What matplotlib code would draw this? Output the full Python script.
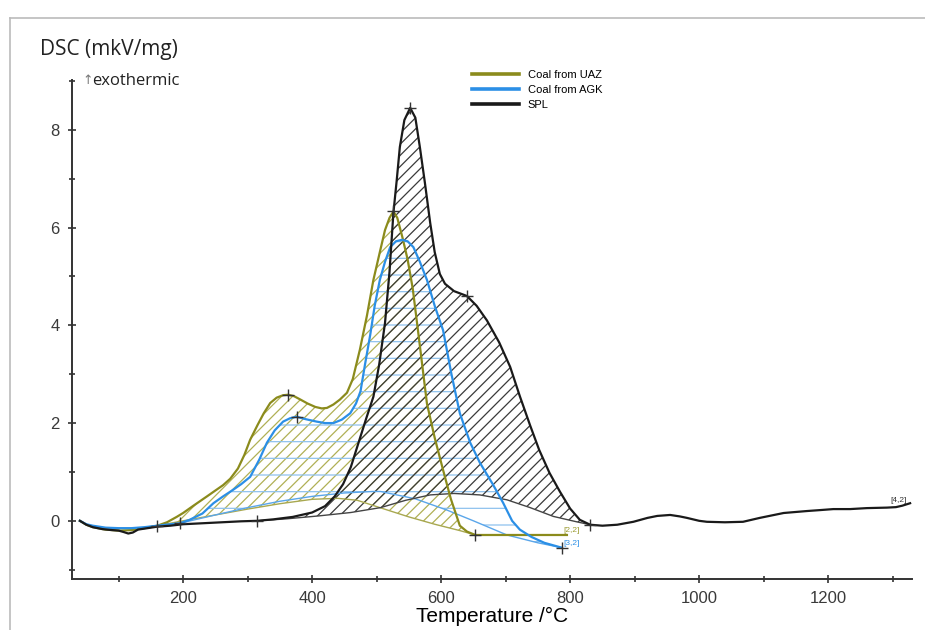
import numpy as np
import matplotlib.pyplot as plt
from matplotlib.lines import Line2D

# DSC curves (temperature in degC, signal in mkV/mg)
t_uaz = [40, 50, 60, 80, 100, 120, 140, 160, 175, 190, 200, 215, 237, 250, 262, 273,
         285, 295, 304, 315, 325, 335, 345, 355, 363, 372, 382, 393, 405, 415, 423,
         433, 443, 454, 463, 474, 485, 495, 505, 513, 520, 526, 532, 540, 548, 556,
         565, 578, 590, 603, 615, 629, 640, 653, 700, 750, 795]
v_uaz = [0.0, -0.08, -0.13, -0.18, -0.2, -0.19, -0.15, -0.1, -0.03, 0.08, 0.16, 0.3,
         0.5, 0.62, 0.73, 0.86, 1.07, 1.35, 1.66, 1.95, 2.2, 2.41, 2.52, 2.57, 2.58,
         2.55, 2.48, 2.4, 2.33, 2.3, 2.31, 2.38, 2.48, 2.62, 2.9, 3.5, 4.2, 4.93,
         5.5, 5.95, 6.2, 6.33, 6.2, 5.8, 5.35, 4.75, 3.8, 2.4, 1.7, 1.04, 0.45,
         -0.1, -0.22, -0.29, -0.29, -0.29, -0.29]

t_agk = [40, 50, 60, 80, 100, 120, 140, 160, 180, 195, 210, 230, 247, 262, 277, 290,
         304, 318, 330, 342, 355, 366, 376, 390, 407, 420, 433, 446, 459, 468, 475,
         482, 490, 497, 505, 513, 521, 530, 539, 548, 557, 567, 578, 590, 603, 616,
         629, 645, 660, 680, 696, 710, 722, 740, 760, 787]
v_agk = [0.0, -0.07, -0.1, -0.14, -0.15, -0.15, -0.13, -0.1, -0.07, -0.05, 0.02,
         0.15, 0.36, 0.5, 0.63, 0.75, 0.9, 1.25, 1.6, 1.85, 2.03, 2.1, 2.13, 2.08,
         2.03, 2.0, 2.0, 2.07, 2.2, 2.4, 2.65, 3.2, 3.8, 4.4, 4.93, 5.3, 5.6, 5.72,
         5.75, 5.72, 5.6, 5.3, 4.93, 4.4, 3.9, 3.0, 2.2, 1.6, 1.19, 0.75, 0.37, 0.0,
         -0.18, -0.33, -0.45, -0.55]

t_spl = [40, 50, 60, 75, 90, 100, 108, 115, 122, 130, 145, 160, 180, 200, 230, 260,
         290, 315, 340, 370, 400, 420, 435, 448, 460, 472, 484, 495, 504, 513, 520,
         526, 531, 536, 543, 552, 560, 567, 575, 583, 590, 598, 606, 620, 640, 655,
         671, 690, 707, 722, 738, 752, 768, 784, 800, 815, 831, 850, 873, 898, 920,
         935, 955, 970, 981, 1000, 1012, 1040, 1068, 1094, 1131, 1167, 1188, 1208,
         1234, 1260, 1291, 1305, 1315, 1327]
v_spl = [0.0, -0.08, -0.13, -0.17, -0.19, -0.2, -0.23, -0.26, -0.24, -0.18, -0.15,
         -0.12, -0.1, -0.07, -0.05, -0.03, -0.01, 0.0, 0.03, 0.08, 0.17, 0.3, 0.5,
         0.75, 1.1, 1.6, 2.1, 2.54, 3.2, 4.05, 5.1, 6.3, 6.95, 7.65, 8.2, 8.45,
         8.25, 7.65, 6.9, 6.1, 5.5, 5.05, 4.85, 4.7, 4.6, 4.4, 4.1, 3.65, 3.15,
         2.55, 1.95, 1.45, 0.98, 0.6, 0.25, 0.02, -0.08, -0.1, -0.08, -0.02, 0.06,
         0.1, 0.12, 0.09, 0.06, 0.0, -0.02, -0.03, -0.02, 0.06, 0.16, 0.2, 0.22,
         0.24, 0.24, 0.26, 0.27, 0.28, 0.31, 0.36]

# integration baselines
tb_uaz = [160, 200, 250, 300, 350, 400, 440, 470, 505, 550, 590, 629, 653]
vb_uaz = [-0.1, 0.0, 0.12, 0.24, 0.35, 0.44, 0.46, 0.42, 0.27, 0.08, -0.07, -0.2, -0.29]
tb_agk = [195, 250, 300, 350, 400, 450, 494, 506, 560, 609, 650, 702, 750, 787]
vb_agk = [-0.05, 0.12, 0.27, 0.4, 0.5, 0.57, 0.6, 0.6, 0.45, 0.22, 0.0, -0.29, -0.45, -0.55]
tb_spl = [315, 360, 410, 460, 506, 545, 583, 620, 660, 702, 738, 774, 810, 831]
vb_spl = [0.0, 0.04, 0.1, 0.17, 0.27, 0.42, 0.53, 0.56, 0.53, 0.43, 0.27, 0.09, -0.02, -0.08]

# marked points (+)
mark_t = [363, 526, 376, 552, 640, 160, 195, 315, 653, 787, 831]
mark_v = [2.58, 6.33, 2.13, 8.45, 4.6, -0.1, -0.05, 0.0, -0.29, -0.55, -0.08]

c_uaz = '#8b8b1c'
c_agk = '#2b8fe6'
c_spl = '#1a1a1a'

plt.rcParams['font.family'] = ['Liberation Sans', 'DejaVu Sans']
plt.rcParams['hatch.linewidth'] = 0.9

fig = plt.figure(figsize=(9.25, 6.3), dpi=100)
ax = fig.add_axes([0.078, 0.081, 0.908, 0.792])


def area(t, v, tb, vb, color, hatch):
    t = np.array(t)
    v = np.array(v)
    sel = (t >= tb[0]) & (t <= tb[-1])
    xs = np.concatenate([t[sel], tb[::-1]])
    ys = np.concatenate([v[sel], vb[::-1]])
    ax.fill(xs, ys, facecolor='none', edgecolor=color, hatch=hatch, linewidth=0, zorder=1)


area(t_uaz, v_uaz, tb_uaz, vb_uaz, '#b0b055', '///')
area(t_agk, v_agk, tb_agk, vb_agk, '#8fc2ee', '-')
area(t_spl, v_spl, tb_spl, vb_spl, '#3a3a3a', '///')

ax.plot(tb_uaz, vb_uaz, color='#a8a850', lw=1, zorder=2)
ax.plot(tb_agk, vb_agk, color='#5aa6ea', lw=1, zorder=2)
ax.plot(tb_spl, vb_spl, color='#444444', lw=1, zorder=2)

ax.plot(t_uaz, v_uaz, color=c_uaz, lw=1.6, label='Coal from UAZ', zorder=3)
ax.plot(t_agk, v_agk, color=c_agk, lw=1.6, label='Coal from AGK', zorder=4)
ax.plot(t_spl, v_spl, color=c_spl, lw=1.6, label='SPL', zorder=5)
ax.plot(mark_t, mark_v, ls='none', marker='+', ms=8, mew=1, color='#333333', zorder=6)

ax.text(790, -0.22, '[2,2]', fontsize=6, color='#9a9a30')
ax.text(790, -0.5, '[3,2]', fontsize=6, color=c_agk)
ax.text(1297, 0.38, '[4,2]', fontsize=6, color='#333333')

ax.set_xlim(28, 1330)
ax.set_ylim(-1.19, 9.02)
ax.set_xticks([200, 400, 600, 800, 1000, 1200])
ax.set_xticks(np.arange(100, 1400, 100), minor=True)
ax.set_yticks([0, 2, 4, 6, 8])
ax.set_yticks(np.arange(-1, 10, 1), minor=True)
for s in ['top', 'right']:
    ax.spines[s].set_visible(False)
for s in ['left', 'bottom']:
    ax.spines[s].set_color('#333333')
    ax.spines[s].set_linewidth(1.4)
ax.tick_params(which='both', direction='inout', color='#333333', width=1.2)
ax.tick_params(which='major', length=6, labelsize=12, labelcolor='#3a3a3a', pad=6)
ax.tick_params(which='minor', length=4)

ax.set_xlabel('Temperature /°C', fontsize=15, family=['Liberation Sans', 'DejaVu Sans'],
              labelpad=0)
fig.text(40 / 925, 1 - 50 / 630, 'DSC (mkV/mg)', fontsize=15, va='center',
         family=['Open Sans', 'DejaVu Sans'], color='#222222')
fig.text(82 / 925, 1 - 81 / 630, '\u2191', fontsize=9, va='center', color='#777777',
         family=['DejaVu Sans'])
fig.text(92 / 925, 1 - 81 / 630, 'exothermic', fontsize=12, va='center',
         family=['Open Sans', 'DejaVu Sans'], color='#222222')

ax.legend(loc='upper left', bbox_to_anchor=(462 / 925, 1 - 60 / 630),
          bbox_transform=fig.transFigure, frameon=False, fontsize=8,
          handlelength=4.2, handletextpad=0.8, labelspacing=0.45)
for ln in ax.get_legend().get_lines():
    ln.set_linewidth(2.6)

# light gray frame of the screenshot
fig.add_artist(Line2D([10 / 925, 10 / 925], [0, 1 - 18 / 630], color='#bbbbbb', lw=1.2))
fig.add_artist(Line2D([10 / 925, 1], [1 - 18 / 630, 1 - 18 / 630], color='#bbbbbb', lw=1.2))

fig.savefig('out.png', dpi=100)
